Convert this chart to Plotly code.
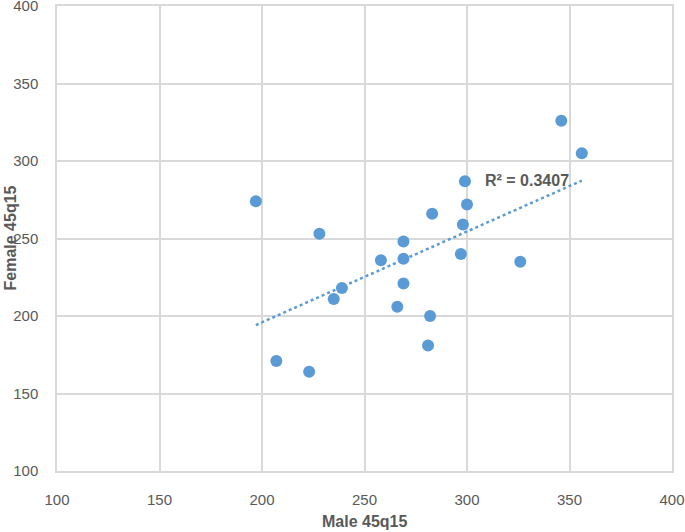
import numpy as np
import plotly.graph_objects as go

male = [197, 207, 223, 228, 235, 239, 258, 269, 269, 269, 266, 282, 281, 283, 297, 298, 299, 300, 326, 346, 356]
female = [274, 171, 164, 253, 211, 218, 236, 248, 237, 221, 206, 200, 181, 266, 240, 259, 287, 272, 235, 326, 305]
r2_label = "R² = 0.3407"
x_title = "Male 45q15"
y_title = "Female 45q15"
tick_vals = [100, 150, 200, 250, 300, 350, 400]

x = np.array(male, dtype=float)
y = np.array(female, dtype=float)
slope, intercept = np.polyfit(x, y, 1)
tx = np.array([x.min(), x.max()])
ty = slope * tx + intercept

blue = "#5B9BD5"
grey = "#595959"
grid = "#D9D9D9"
font = "Liberation Sans"

fig = go.Figure()
fig.add_trace(go.Scatter(x=tx, y=ty, mode="lines",
                         line=dict(color=blue, width=2.5, dash="dot"),
                         hoverinfo="skip", showlegend=False))
fig.add_trace(go.Scatter(x=male, y=female, mode="markers",
                         marker=dict(color=blue, size=12, line=dict(width=0)),
                         showlegend=False))

fig.add_annotation(x=tx[1], y=ty[1], xref="x", yref="y", text=r2_label,
                   showarrow=False, xanchor="right", yanchor="middle",
                   xshift=-11, yshift=0,
                   font=dict(family=font, size=16, color=grey, weight="bold"))

fig.add_annotation(x=0.5, y=0, xref="paper", yref="paper", text=x_title,
                   showarrow=False, xanchor="center", yanchor="middle", yshift=-50,
                   font=dict(family=font, size=16, color=grey, weight="bold"))
fig.add_annotation(x=0, y=0.5, xref="paper", yref="paper", text=y_title,
                   showarrow=False, xanchor="center", yanchor="middle", xshift=-47,
                   textangle=-90,
                   font=dict(family=font, size=16, color=grey, weight="bold"))

axis_common = dict(showgrid=True, gridcolor=grid, gridwidth=1.5,
                   zeroline=False, showline=True, mirror=True,
                   linecolor=grid, linewidth=1.5, ticks="",
                   tickvals=tick_vals, automargin=False,
                   ticklabeloverflow="allow",
                   tickfont=dict(family=font, size=15, color=grey))

fig.update_xaxes(range=[100, 400], ticklabelstandoff=14, **axis_common)
fig.update_yaxes(range=[100, 400], ticklabelstandoff=14, **axis_common)

fig.update_layout(width=685, height=532,
                  margin=dict(l=57, r=13, t=6, b=61),
                  plot_bgcolor="white", paper_bgcolor="white",
                  font=dict(family=font, color=grey))

fig.write_html("out.html", config={"displayModeBar": False},
               post_script="document.body.style.margin='0';")
